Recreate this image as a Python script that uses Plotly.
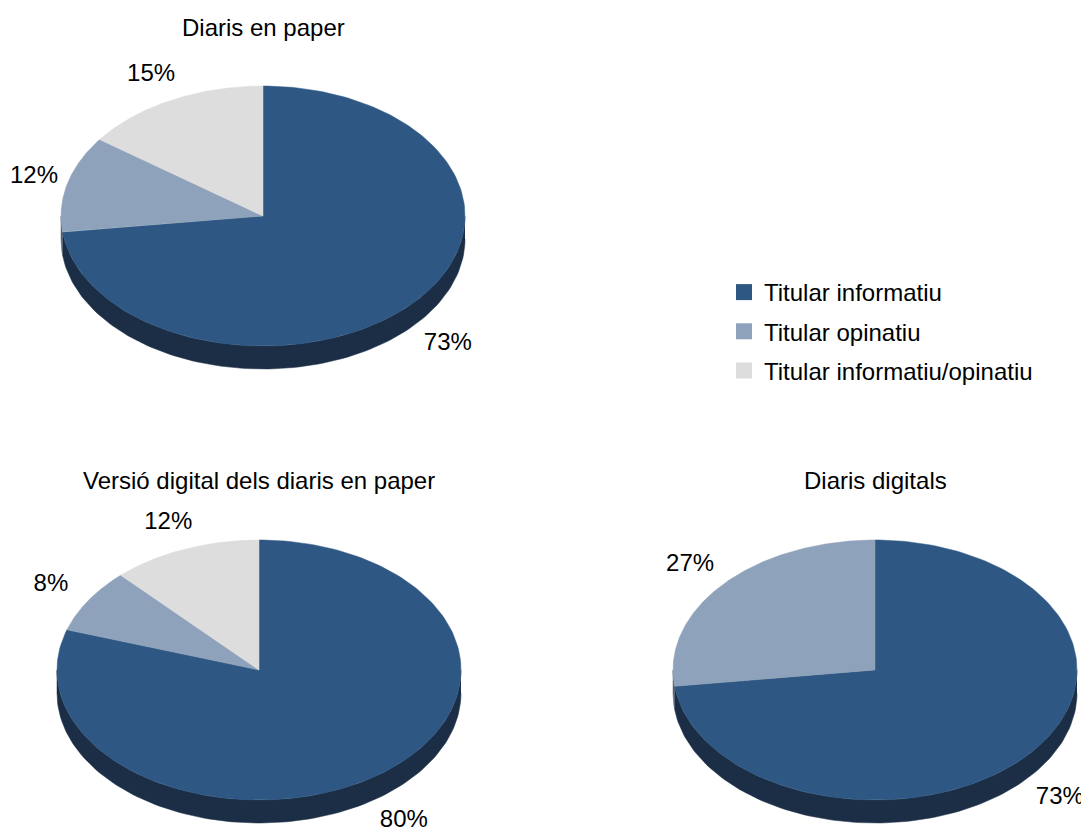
import numpy as np
import plotly.graph_objects as go

categories = ["Titular informatiu", "Titular opinatiu", "Titular informatiu/opinatiu"]
titles = ["Diaris en paper", "Versió digital dels diaris en paper", "Diaris digitals"]
paper_values = [73, 12, 15]
digital_version_values = [80, 8, 12]
digital_values = [73, 27, 0]
series = [paper_values, digital_version_values, digital_values]

top_colors = ["#2E5883", "#8EA2BB", "#DDDDDD"]
side_colors = ["#1B2E46", "#566273", "#8A8A8A"]

OFF = 8                      # browser body margin
W, H = 1089 - OFF, 833 - OFF
RX, RY = 202, 130            # ellipse radii in px
DEPTH = 23 / RY              # side wall depth in y-units
FONT = "Liberation Sans, Arial, sans-serif"
FS = 24
MIN_LABEL_X = 34 - OFF       # keep label centres inside the page

# pie centres (screen px, from top-left)
centres = [(263, 216), (259, 670), (875, 670)]
title_y = [27, 480, 480]

fig = go.Figure()

for i, ((sx, sy), vals, title) in enumerate(zip(centres, series, titles)):
    cx, cy = sx - OFF, sy - OFF
    ax = "" if i == 0 else str(i + 1)
    xa, ya = "x" + ax, "y" + ax
    x0, x1 = max(cx - 250, 0), min(cx + 250, W)
    yt, yb = max(cy - 185, 0), min(cy + 185, H)
    fig.update_layout(**{
        "xaxis" + ax: dict(domain=[x0 / W, x1 / W], range=[(x0 - cx) / RX, (x1 - cx) / RX],
                           visible=False, fixedrange=True, anchor=ya),
        "yaxis" + ax: dict(domain=[1 - yb / H, 1 - yt / H], range=[-(yb - cy) / RY, (cy - yt) / RY],
                           visible=False, fixedrange=True, anchor=xa),
    })
    total = float(sum(vals))
    bounds = np.concatenate([[0], np.cumsum(vals)]) / total * 2 * np.pi
    # side walls
    for k in range(len(vals)):
        if vals[k] <= 0:
            continue
        s0, s1 = max(bounds[k], np.pi / 2), min(bounds[k + 1], 3 * np.pi / 2)
        if s1 <= s0:
            continue
        t = np.linspace(s0, s1, 120)
        xs = np.concatenate([np.sin(t), np.sin(t[::-1])])
        ys = np.concatenate([np.cos(t), np.cos(t[::-1]) - DEPTH])
        fig.add_trace(go.Scatter(x=xs, y=ys, xaxis=xa, yaxis=ya, mode="lines", fill="toself",
                                 fillcolor=side_colors[k], line=dict(width=0.5, color=side_colors[k]),
                                 showlegend=False, hoverinfo="skip"))
    # top faces
    for k in range(len(vals)):
        if vals[k] <= 0:
            continue
        t = np.linspace(bounds[k], bounds[k + 1], 200)
        xs = np.concatenate([[0], np.sin(t), [0]])
        ys = np.concatenate([[0], np.cos(t), [0]])
        fig.add_trace(go.Scatter(x=xs, y=ys, xaxis=xa, yaxis=ya, mode="lines", fill="toself",
                                 fillcolor=top_colors[k], line=dict(width=0.5, color=top_colors[k]),
                                 showlegend=False, name=categories[k],
                                 hovertemplate=f"{categories[k]}: {vals[k]}%<extra></extra>"))
    # labels
    lx, ly, lt = [], [], []
    for k in range(len(vals)):
        if vals[k] <= 0:
            continue
        m = (bounds[k] + bounds[k + 1]) / 2
        r = 1.22
        yy = r * np.cos(m)
        if np.cos(m) < 0:
            yy -= DEPTH
        xx = max(r * np.sin(m), (MIN_LABEL_X - cx) / RX)
        lx.append(xx)
        ly.append(yy)
        lt.append(f"{vals[k]}%")
    fig.add_trace(go.Scatter(x=lx, y=ly, xaxis=xa, yaxis=ya, mode="text", text=lt,
                             textfont=dict(family=FONT, size=FS, color="black"),
                             cliponaxis=False, showlegend=False, hoverinfo="skip"))
    # title
    fig.add_annotation(x=cx / W, y=1 - (title_y[i] - OFF) / H, xref="paper", yref="paper", text=title,
                       showarrow=False, xanchor="center", yanchor="middle",
                       font=dict(family=FONT, size=FS, color="black"))

# legend entries
for k, c in enumerate(categories):
    fig.add_trace(go.Scatter(x=[None], y=[None], mode="markers", name=c,
                             marker=dict(symbol="square", size=17, color=top_colors[k]),
                             legendgroup=c, showlegend=True))

fig.update_layout(
    width=W, height=H, autosize=False,
    margin=dict(l=0, r=0, t=0, b=0),
    paper_bgcolor="white", plot_bgcolor="white",
    showlegend=True,
    legend=dict(x=(724 - OFF) / W, y=1 - (270 - OFF) / H, xanchor="left", yanchor="top",
                font=dict(family=FONT, size=FS, color="black"),
                tracegroupgap=5, itemwidth=30, bgcolor="rgba(0,0,0,0)"),
)

fig.write_html("out.html")
